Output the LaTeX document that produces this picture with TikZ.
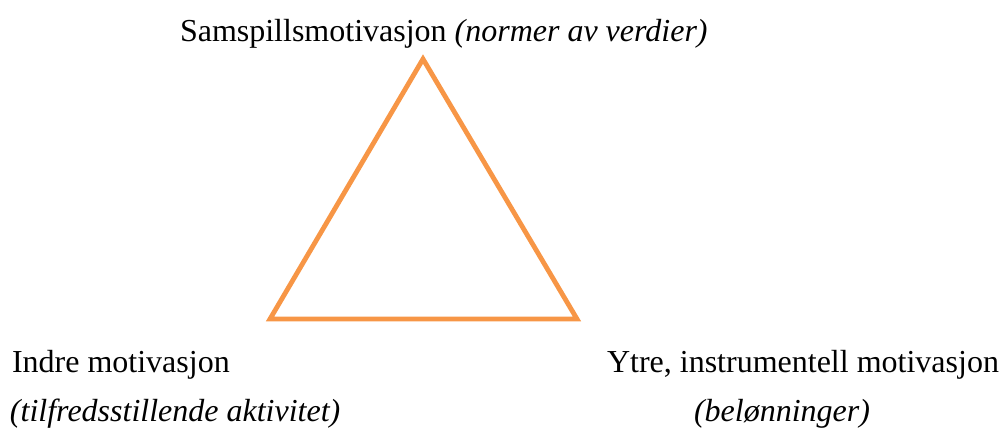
\documentclass[tikz,border=0pt]{standalone}
\usepackage{fontspec}
\setmainfont{Liberation Serif}
\definecolor{triorange}{HTML}{F79646}
\tikzset{
  lbl/.style={anchor=base west, inner sep=0pt, outer sep=0pt, font=\fontsize{16}{19}\selectfont},
  tri/.style={draw=triorange, line width=2.4pt, line join=miter}
}
\begin{document}
\begin{tikzpicture}[x=0.5pt,y=-0.5pt]
\useasboundingbox (0,0) rectangle (1002,433);
\coordinate (apex) at (423,59);
\coordinate (bl) at (270,319);
\coordinate (br) at (577,319);
\draw[tri] (apex) -- (br) -- (bl) -- cycle;
\node[lbl] (top) at (180,42) {Samspillsmotivasjon \textit{(normer av verdier)}};
\node[lbl] (left1) at (12,372) {Indre motivasjon};
\node[lbl] (left2) at (10,421) {\textit{(tilfredsstillende aktivitet)}};
\node[lbl] (right1) at (607,372) {Ytre, instrumentell motivasjon};
\node[lbl] (right2) at (694,421) {\textit{(belønninger)}};
\end{tikzpicture}
\end{document}
